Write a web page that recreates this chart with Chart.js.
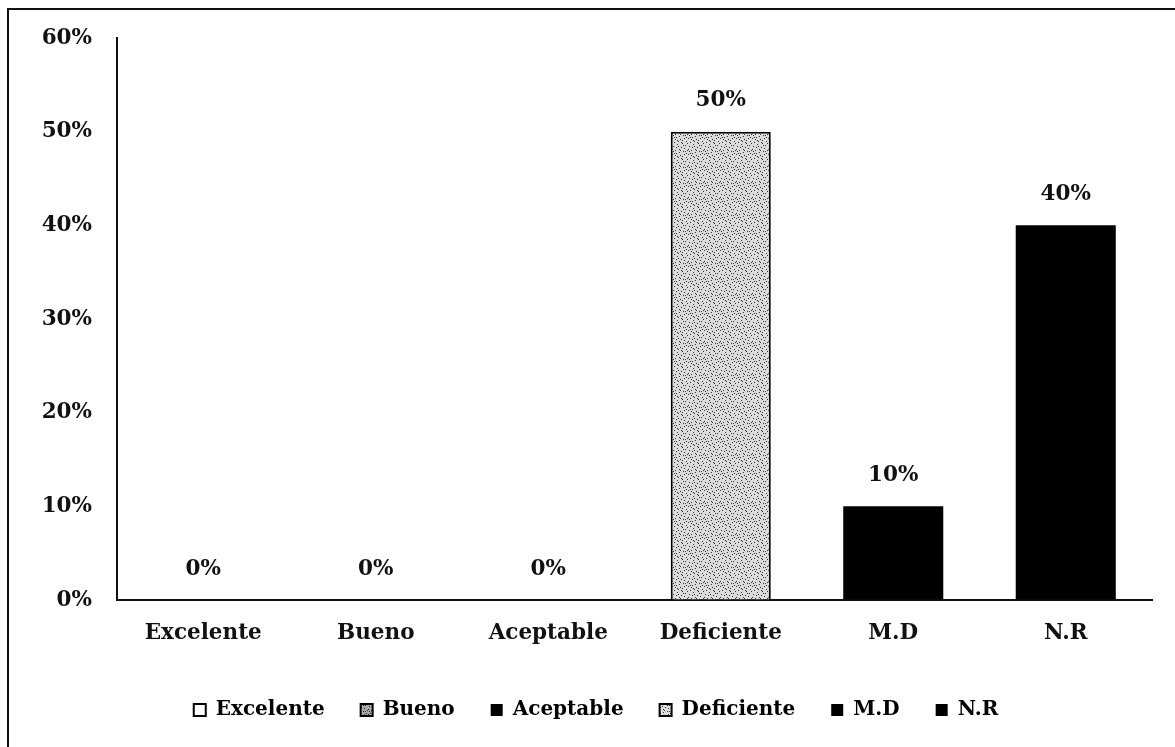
<!DOCTYPE html>
<html>
<head>
<meta charset="utf-8">
<script src="https://cdn.jsdelivr.net/npm/chart.js@4/dist/chart.umd.min.js"></script>
<style>
  html, body { margin: 0; padding: 0; background: #fff; }
  #wrap { position: relative; width: 1175px; height: 747px; overflow: hidden; }
  #marco { position: absolute; left: 7px; top: 8px; width: 1300px; height: 800px;
           border-left: 2px solid #111; border-top: 2px solid #111; pointer-events: none; }
  canvas { position: absolute; left: 0; top: 0; }
</style>
</head>
<body>
<div id="wrap">
  <canvas id="grafica" width="1175" height="747"></canvas>
  <div id="marco"></div>
</div>
<script>
// datos
var categorias = ['Excelente', 'Bueno', 'Aceptable', 'Deficiente', 'M.D', 'N.R'];
var porcentajes = [0, 0, 0, 50, 10, 40];
var ticks_y = [0, 10, 20, 30, 40, 50, 60];

var fuente = 'DejaVu Serif';

// textura punteada (gris claro)
function puntos(fondo, tinta) {
    var c = document.createElement('canvas');
    c.width = 16; c.height = 16;
    var g = c.getContext('2d');
    g.fillStyle = fondo;
    g.fillRect(0, 0, 16, 16);
    g.fillStyle = tinta;
    var pts = [[1,2],[5,0],[9,3],[13,1],[3,6],[7,5],[11,7],[15,6],[0,10],[4,9],[8,11],[12,10],
               [2,14],[6,13],[10,15],[14,13],[6,2],[14,9],[1,7],[10,12],[3,11],[12,4],[7,8],
               [15,15],[4,3],[9,14],[13,7],[0,5],[5,12],[11,1],[8,6],[2,9]];
    for (var i = 0; i < pts.length; i++) {
        g.fillRect(pts[i][0], pts[i][1], 1, 1);
    }
    return g.createPattern(c, 'repeat');
}
var ctx = document.getElementById('grafica').getContext('2d');
var punteado = puntos('#dcdcdc', '#333');
var punteado2 = puntos('#aaa', '#222');

var rellenos = ['#fff', punteado2, '#000', punteado, '#000', '#000'];
var bordes = ['#000', '#000', '#000', '#000', '#000', '#000'];
var grosores = [0, 0, 0, 2, 0, 0];
var leyenda_bordes = [2, 2, 0, 2, 0, 0];

var etiquetas = {
    id: 'etiquetas',
    afterDatasetsDraw: function(chart) {
        var c = chart.ctx;
        var meta = chart.getDatasetMeta(0);
        c.save();
        c.font = 'bold 21.5px "' + fuente + '"';
        c.fillStyle = '#111';
        c.textAlign = 'center';
        c.textBaseline = 'middle';
        meta.data.forEach(function(barra, i) {
            c.fillText(porcentajes[i] + '%', barra.x, barra.y - 31);
        });
        c.restore();
    }
};

new Chart(ctx, {
    type: 'bar',
    data: {
        labels: categorias,
        datasets: [{
            data: porcentajes,
            backgroundColor: rellenos,
            borderColor: bordes,
            borderWidth: grosores,
            categoryPercentage: 1,
            barPercentage: 0.58
        }]
    },
    options: {
        responsive: false,
        animation: false,
        layout: { padding: { left: 40, right: 23, top: 38, bottom: 17 } },
        plugins: {
            tooltip: { enabled: false },
            legend: {
                display: true,
                position: 'bottom',
                labels: {
                    color: '#111',
                    font: { family: fuente, size: 20, weight: 'bold' },
                    boxWidth: 12,
                    boxHeight: 12,
                    padding: 36,
                    generateLabels: function(chart) {
                        return categorias.map(function(n, i) {
                            return {
                                text: n,
                                fillStyle: rellenos[i],
                                strokeStyle: '#000',
                                lineWidth: leyenda_bordes[i],
                                hidden: false,
                                index: i
                            };
                        });
                    }
                }
            }
        },
        scales: {
            x: {
                grid: { display: true, drawOnChartArea: false, drawTicks: false },
                border: { display: true, color: '#111', width: 2 },
                ticks: {
                    color: '#111',
                    padding: 21,
                    font: { family: fuente, size: 21.5, weight: 'bold' }
                },
                afterFit: function(scale) { scale.height = 64; }
            },
            y: {
                min: 0,
                max: 60,
                grid: { display: true, drawOnChartArea: false, drawTicks: false },
                border: { display: true, color: '#111', width: 2 },
                afterBuildTicks: function(scale) {
                    scale.ticks = ticks_y.map(function(v) { return { value: v }; });
                },
                ticks: {
                    color: '#111',
                    padding: 25,
                    font: { family: fuente, size: 21.5, weight: 'bold' },
                    callback: function(v) { return v + '%'; }
                },
                afterFit: function(scale) { scale.width = 77; }
            }
        }
    },
    plugins: [etiquetas]
});
</script>
</body>
</html>
